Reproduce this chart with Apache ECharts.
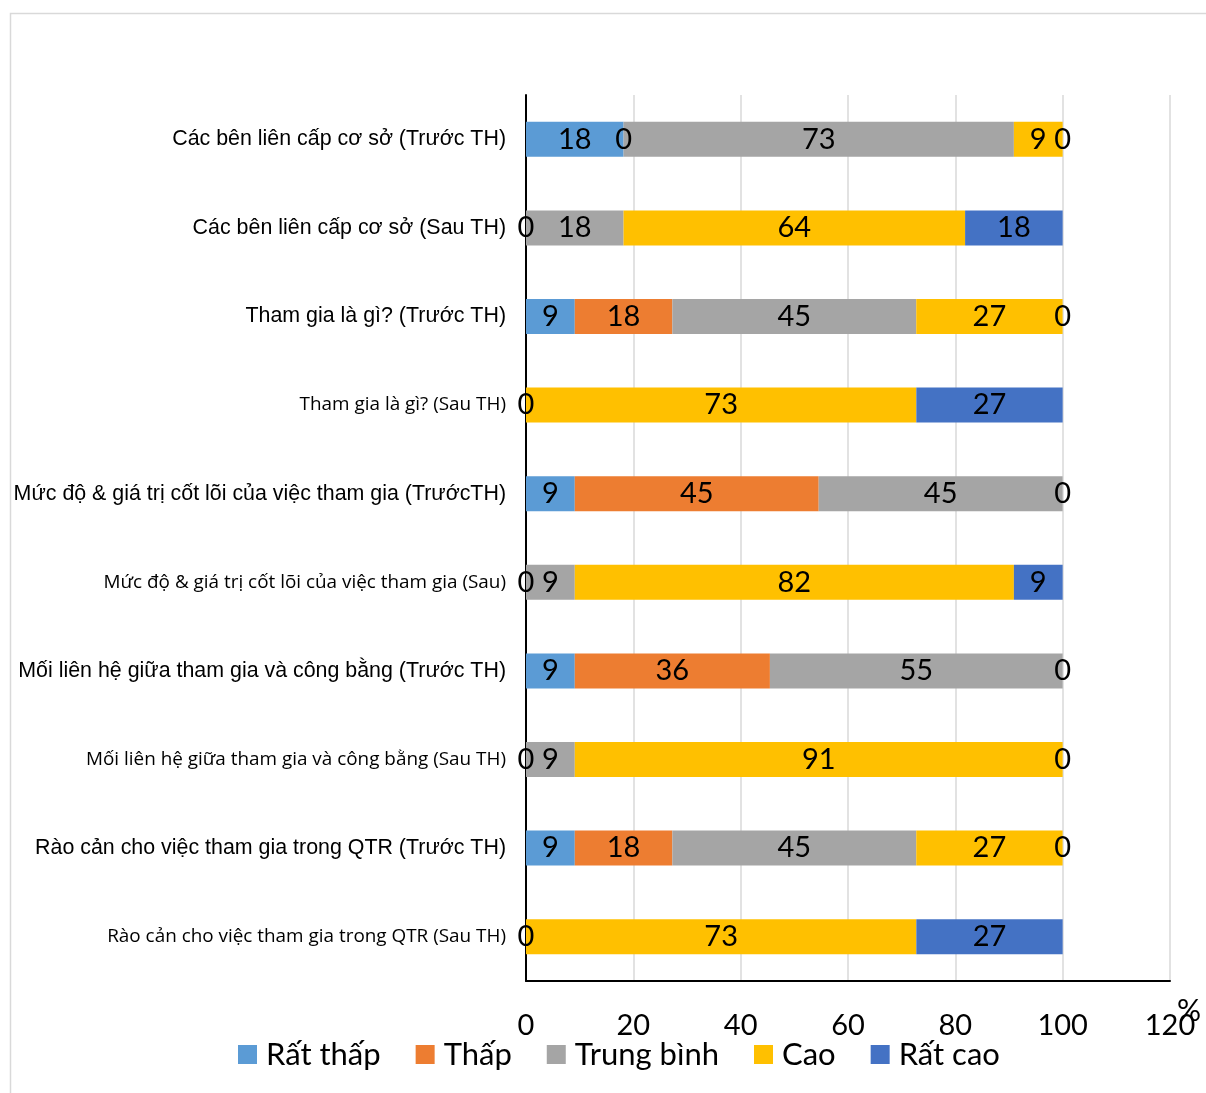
<!DOCTYPE html>
<html>
<head>
<meta charset="utf-8">
<script src="https://cdn.jsdelivr.net/npm/echarts@6/dist/echarts.min.js"></script>
<style>
  html, body { margin: 0; padding: 0; background: #fff; }
  #chart { width: 1206px; height: 1093px; }
</style>
</head>
<body>
<div id="chart"></div>
<script>
// du lieu bieu do (gia tri %, 11 nguoi tra loi -> nhan lam tron)
var categories = [
  'Các bên liên cấp cơ sở (Trước TH)',
  'Các bên liên cấp cơ sở (Sau TH)',
  'Tham gia là gì? (Trước TH)',
  'Tham gia là gì? (Sau TH)',
  'Mức độ & giá trị cốt lõi của việc tham gia (TrướcTH)',
  'Mức độ & giá trị cốt lõi của việc tham gia (Sau)',
  'Mối liên hệ giữa tham gia và công bằng (Trước TH)',
  'Mối liên hệ giữa tham gia và công bằng (Sau TH)',
  'Rào cản cho việc tham gia trong QTR (Trước TH)',
  'Rào cản cho việc tham gia trong QTR (Sau TH)'
];
// dong dung font nho (Calibri trong ban goc)
var smallRows = [3, 5, 7, 9];

var seriesNames = ['Rất thấp', 'Thấp', 'Trung bình', 'Cao', 'Rất cao'];
var ratThap   = [18.18, 0, 9.09, 0, 9.09, 0, 9.09, 0, 9.09, 0];
var thap      = [0, null, 18.18, null, 45.45, null, 36.36, null, 18.18, null];
var trungBinh = [72.73, 18.18, 45.45, null, 45.45, 9.09, 54.55, 9.09, 45.45, null];
var cao       = [9.09, 63.64, 27.27, 72.73, 0, 81.82, 0, 90.91, 27.27, 72.73];
var ratCao    = [0, 18.18, 0, 27.27, null, 9.09, null, 0, 0, 27.27];
var xTicks = [0, 20, 40, 60, 80, 100, 120];
var unitLabel = '%';

var colors = ['#5B9BD5', '#ED7D31', '#A5A5A5', '#FFC000', '#4472C4'];
var numFont = 'Lato, "Open Sans", sans-serif';

var myChart = echarts.init(document.getElementById('chart'));
var option;

function makeSeries(name, data, idx) {
  return {
    name: name,
    type: 'bar',
    stack: 'total',
    data: data,
    barWidth: 35,
    itemStyle: { color: colors[idx] },
    label: {
      show: true,
      position: 'inside',
      color: '#000',
      fontFamily: numFont,
      fontSize: 29,
      formatter: function (p) { return String(Math.round(p.value)); }
    },
    emphasis: { disabled: true }
  };
}

option = {
  animation: false,
  color: colors,
  grid: {
    left: 526,
    right: 36,
    top: 95,
    bottom: 112,
    containLabel: false,
    outerBoundsMode: 'none'
  },
  legend: {
    left: 233,
    bottom: 18,
    itemWidth: 19,
    itemHeight: 19,
    itemGap: 35,
    icon: 'rect',
    textStyle: {
      fontFamily: numFont,
      fontSize: 31,
      color: '#000',
      padding: [0, 0, 0, 4]
    },
    data: seriesNames
  },
  xAxis: {
    type: 'value',
    min: 0,
    max: 120,
    interval: 20,
    axisLine: { show: true, lineStyle: { color: '#000', width: 2 } },
    axisTick: { show: false },
    axisLabel: {
      margin: 30,
      color: '#000',
      fontFamily: numFont,
      fontSize: 29,
      formatter: function (v) { return xTicks.indexOf(v) >= 0 ? String(v) : ''; }
    },
    splitLine: { show: true, lineStyle: { color: '#d9d9d9', width: 1.5 } }
  },
  yAxis: {
    type: 'category',
    inverse: true,
    data: categories,
    axisLine: { show: true, lineStyle: { color: '#000', width: 2 } },
    axisTick: { show: false },
    axisLabel: {
      margin: 20,
      formatter: function (v, i) {
        return smallRows.indexOf(i) >= 0 ? '{s|' + v + '}' : '{a|' + v + '}';
      },
      rich: {
        a: { fontFamily: '"Liberation Sans", Arial, sans-serif', fontSize: 21.4, color: '#000' },
        s: { fontFamily: '"Open Sans", sans-serif', fontSize: 18.9, color: '#000' }
      }
    }
  },
  graphic: [
    {
      type: 'rect',
      shape: { x: 10.5, y: 13.5, width: 1400, height: 1300 },
      style: { fill: 'none', stroke: '#d9d9d9', lineWidth: 1.5 },
      silent: true,
      z: -10
    },
    {
      // don vi truc x
      type: 'text',
      left: 1177,
      top: 996,
      style: { text: unitLabel, fontFamily: numFont, fontSize: 30, fill: '#000' },
      silent: true
    }
  ],
  series: [
    makeSeries(seriesNames[0], ratThap, 0),
    makeSeries(seriesNames[1], thap, 1),
    makeSeries(seriesNames[2], trungBinh, 2),
    makeSeries(seriesNames[3], cao, 3),
    makeSeries(seriesNames[4], ratCao, 4)
  ]
};

option && myChart.setOption(option);
window.onresize = myChart.resize;
</script>
</body>
</html>
